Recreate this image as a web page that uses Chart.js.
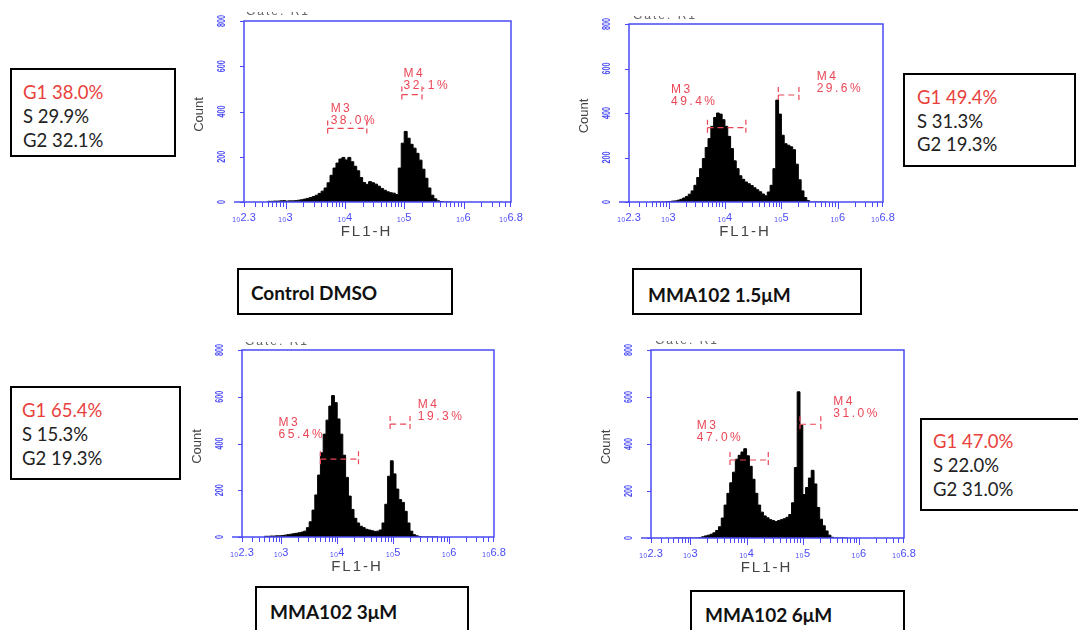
<!DOCTYPE html>
<html>
<head>
<meta charset="utf-8">
<script src="https://cdn.jsdelivr.net/npm/chart.js@4.4.1/dist/chart.umd.min.js"></script>
<style>
  body { margin: 0; background: #fff; }
  #page { position: relative; width: 1078px; height: 630px; overflow: hidden; background: #fff; }
  canvas { position: absolute; }
  .box { position: absolute; box-sizing: border-box; border: 2.5px solid #000; background: #fff;
         font-family: Lato, 'Open Sans', sans-serif; font-size: 18.5px; color: #222; line-height: 24px; }
  .box .red { color: #e8413c; }
  .tag { position: absolute; box-sizing: border-box; border: 2.5px solid #000; background: #fff;
         font-family: Lato, 'Open Sans', sans-serif; font-weight: bold; font-size: 19px; color: #111; line-height: 24px; }
  .gate { position: absolute; overflow: hidden; height: 5px; width: 80px; }
  .gate span { display: block; margin-top: -8px; font: 12px 'Liberation Sans', Arial; letter-spacing: 2px; color: #666; }
</style>
</head>
<body>
<div id="page">
  <canvas id="c1"></canvas>
  <canvas id="c2"></canvas>
  <canvas id="c3"></canvas>
  <canvas id="c4"></canvas>
</div>
<script>
// histogram bins: exponent of FL1-H, bin i covers [BIN_START + i*BIN_WIDTH, +BIN_WIDTH)
const BIN_START = 2.7;
const BIN_WIDTH = 0.05;

const controlCounts = [2,3,3,4,4,5,6,4,5,5, 6,8,10,13,16,20,24,30,38,48,
  62,85,118,150,172,190,197,186,197,178, 158,138,108,86,78,90,85,79,70,60,
  52,45,41,39,33,150,260,312,282,255, 238,215,185,145,105,62,30,14,5,2, 0,0];
const mma15Counts = [0,0,0,0,0,0,1,2,4,5, 8,12,18,25,35,50,75,110,150,195,
  245,285,340,380,400,395,370,340,295,240, 185,150,118,102,90,82,74,64,55,46,
  36,28,45,75,150,458,395,300,262,255, 248,235,170,100,50,20,6,0,0,0, 0,0];
const mma3Counts = [2,3,3,4,4,5,5,6,8,10, 12,14,16,18,21,25,40,65,115,180,
  265,360,440,500,560,605,575,505,440,350, 255,175,118,80,60,46,40,33,30,27,
  24,25,30,60,140,260,326,270,205,160, 148,110,60,25,10,5,2,0,0,0, 0,0];
const mma6Counts = [0,0,0,0,0,0,0,0,0,0, 2,5,9,12,16,22,32,48,85,140,
  190,235,280,335,352,366,380,350,305,250, 190,140,110,94,86,78,74,70,74,78,
  82,88,100,150,300,622,480,185,215,255, 288,230,130,80,52,30,12,3,0,0, 0,0];

const xTickExponents = [2.3, 3, 4, 5, 6, 6.8];
const xTickLabels = ['2.3', '3', '4', '5', '6', '6.8'];
const yTickValues = [0, 200, 400, 600, 800];
const yTickLabels = ['0', '200', '400', '600', '800'];

// marker gates: [from exponent, to exponent, count level]
const gateM3 = [[3.71, 4.37, 325], [3.69, 4.37, 334], [3.70, 4.38, 333], [3.705, 4.386, 332]];
const gateM4 = [[4.96, 5.30, 475], [4.945, 5.31, 481], [4.945, 5.30, 483], [4.95, 5.32, 484]];
const pctM3 = ['38.0%', '49.4%', '65.4%', '47.0%'];
const pctM4 = ['32.1%', '29.6%', '19.3%', '31.0%'];

const g1Pct = ['38.0%', '49.4%', '65.4%', '47.0%'];
const sPct = ['29.9%', '31.3%', '15.3%', '22.0%'];
const g2Pct = ['32.1%', '19.3%', '19.3%', '31.0%'];
const treatments = ['Control DMSO', 'MMA102 1.5μM', 'MMA102 3μM', 'MMA102 6μM'];

const BLUE = '#4a4af6';
const RED = '#ea4656';

const panels = [
  { id: 'c1', L: 244, T: 21, R: 511, B: 202, m3Label: [3.76, 413], m4Label: [4.99, 567] },
  { id: 'c2', L: 629, T: 24, R: 883, B: 202, m3Label: [3.044, 506], m4Label: [5.625, 562] },
  { id: 'c3', L: 242, T: 350, R: 494, B: 537, m3Label: [2.953, 488], m4Label: [5.44, 567] },
  { id: 'c4', L: 651, T: 350, R: 904, B: 538, m3Label: [3.113, 479], m4Label: [5.543, 581] }
];
const statBoxes = [
  { left: 10, top: 68, w: 166, h: 89, pl: 11, pt: 10, lh: 24 },
  { left: 903, top: 73, w: 173, h: 94, pl: 12, pt: 11, lh: 23.5 },
  { left: 10, top: 386, w: 171, h: 94, pl: 10, pt: 10, lh: 24 },
  { left: 920, top: 418, w: 160, h: 93, pl: 11, pt: 9, lh: 24 }
];
const tagBoxes = [
  { left: 237, top: 268, w: 216, h: 47, pl: 12, pt: 11 },
  { left: 632, top: 268, w: 230, h: 47, pl: 14, pt: 13 },
  { left: 255, top: 586, w: 214, h: 60, pl: 13, pt: 12 },
  { left: 690, top: 590, w: 215, h: 60, pl: 13, pt: 11 }
];
const gateTexts = [
  { left: 246, top: 12 }, { left: 633, top: 16 }, { left: 245, top: 342 }, { left: 655, top: 341 }
];

const PAD = { left: 64, top: 8, right: 22, bottom: 18 };
const X_AXIS_H = 24;

function minorTicks() {
  const out = [];
  for (let d = 2; d <= 6; d++) {
    for (let k = 2; k <= 9; k++) {
      const v = d + Math.log10(k);
      if (v > 2.3 && v < 6.8) out.push(v);
    }
  }
  return out;
}

function makeDecor(idx) {
  const p = panels[idx];
  return {
    id: 'panelDecor' + idx,
    afterDraw(chart) {
      const { ctx, chartArea: a, scales: { x, y } } = chart;
      ctx.save();
      // frame
      ctx.strokeStyle = BLUE;
      ctx.lineWidth = 1.5;
      ctx.strokeRect(a.left, a.top, a.right - a.left, a.bottom - a.top);
      ctx.beginPath();
      ctx.moveTo(a.left - 10, a.bottom);
      ctx.lineTo(a.left, a.bottom);
      ctx.stroke();
      // x tick marks
      ctx.lineWidth = 1;
      ctx.beginPath();
      [3, 4, 5, 6].forEach(v => {
        const px = Math.round(x.getPixelForValue(v)) + 0.5;
        ctx.moveTo(px, a.bottom); ctx.lineTo(px, a.bottom + 7);
      });
      minorTicks().forEach(v => {
        const px = Math.round(x.getPixelForValue(v)) + 0.5;
        ctx.moveTo(px, a.bottom); ctx.lineTo(px, a.bottom + 5);
      });
      // y tick marks
      yTickValues.forEach(v => {
        const py = Math.round(y.getPixelForValue(v)) + 0.5;
        ctx.moveTo(a.left - 4, py); ctx.lineTo(a.left, py);
      });
      ctx.stroke();
      // y tick labels (rotated)
      ctx.fillStyle = BLUE;
      ctx.font = 'bold 10px "Liberation Sans", Arial';
      ctx.textAlign = 'center';
      ctx.textBaseline = 'middle';
      yTickValues.forEach((v, i) => {
        ctx.save();
        ctx.translate(a.left - 22, y.getPixelForValue(v));
        ctx.rotate(-Math.PI / 2);
        ctx.scale(0.72, 1.1);
        ctx.fillText(yTickLabels[i], 0, 0);
        ctx.restore();
      });
      // axis titles
      ctx.fillStyle = '#444';
      ctx.font = '13px "Liberation Sans", Arial';
      ctx.save();
      ctx.translate(a.left - 45, (a.top + a.bottom) / 2 + 3);
      ctx.rotate(-Math.PI / 2);
      ctx.fillText('Count', 0, 0);
      ctx.restore();
      ctx.font = '15px "Liberation Sans", Arial';
      ctx.letterSpacing = '2px';
      ctx.fillText('FL1-H', (a.left + a.right) / 2 - 11, a.bottom + 30);
      // gate markers
      ctx.strokeStyle = RED;
      ctx.lineWidth = 1.2;
      [gateM3[idx], gateM4[idx]].forEach(g => {
        const x1 = x.getPixelForValue(g[0]);
        const x2 = x.getPixelForValue(g[1]);
        const py = y.getPixelForValue(g[2]);
        ctx.setLineDash([6, 4]);
        ctx.beginPath();
        ctx.moveTo(x1, py); ctx.lineTo(x2, py);
        ctx.stroke();
        ctx.setLineDash([5, 3]);
        ctx.beginPath();
        ctx.moveTo(x1, py - 8); ctx.lineTo(x1, py + 8);
        ctx.moveTo(x2, py - 8); ctx.lineTo(x2, py + 8);
        ctx.stroke();
      });
      ctx.setLineDash([]);
      // gate labels
      ctx.fillStyle = RED;
      ctx.font = '12px "Liberation Sans", Arial';
      ctx.letterSpacing = '2.5px';
      ctx.textAlign = 'left';
      [[p.m3Label, 'M3', pctM3[idx]], [p.m4Label, 'M4', pctM4[idx]]].forEach(([pos, name, pct]) => {
        const px = x.getPixelForValue(pos[0]);
        const py = y.getPixelForValue(pos[1]);
        ctx.fillText(name, px, py);
        ctx.fillText(pct, px, py + 12);
      });
      ctx.restore();
    }
  };
}

function makePanel(idx, counts) {
  const p = panels[idx];
  const canvas = document.getElementById(p.id);
  const w = p.R - p.L + PAD.left + PAD.right;
  const h = p.B - p.T + PAD.top + PAD.bottom + X_AXIS_H;
  canvas.width = w;
  canvas.height = h;
  canvas.style.left = (p.L - PAD.left) + 'px';
  canvas.style.top = (p.T - PAD.top) + 'px';

  const points = counts.map((c, i) => ({ x: BIN_START + i * BIN_WIDTH, y: c }));
  points.push({ x: BIN_START + counts.length * BIN_WIDTH, y: 0 });

  return new Chart(canvas, {
    type: 'line',
    data: {
      datasets: [{
        data: points,
        stepped: 'after',
        fill: 'origin',
        backgroundColor: '#000',
        borderColor: '#000',
        borderWidth: 1,
        pointRadius: 0
      }]
    },
    options: {
      responsive: false,
      animation: false,
      events: [],
      layout: { padding: PAD },
      plugins: { legend: { display: false }, tooltip: { enabled: false } },
      scales: {
        x: {
          type: 'linear', min: 2.3, max: 6.8,
          afterFit: s => { s.height = X_AXIS_H; },
          afterBuildTicks: s => { s.ticks = xTickExponents.map(v => ({ value: v })); },
          grid: { display: false, drawTicks: false },
          border: { display: false },
          ticks: {
            color: BLUE, padding: 9, autoSkip: false, maxRotation: 0,
            font: { family: '"Liberation Sans", Arial', size: 11 },
            callback: (v, i) => '₁₀' + xTickLabels[i]
          }
        },
        y: {
          min: 0, max: 800,
          afterFit: s => { s.width = 0; },
          grid: { display: false, drawTicks: false },
          border: { display: false },
          ticks: { display: false }
        }
      }
    },
    plugins: [makeDecor(idx)]
  });
}

makePanel(0, controlCounts);
makePanel(1, mma15Counts);
makePanel(2, mma3Counts);
makePanel(3, mma6Counts);

// text boxes
const page = document.getElementById('page');
statBoxes.forEach((b, i) => {
  const d = document.createElement('div');
  d.className = 'box';
  Object.assign(d.style, { left: b.left + 'px', top: b.top + 'px', width: b.w + 'px', height: b.h + 'px',
    paddingLeft: b.pl + 'px', paddingTop: b.pt + 'px', lineHeight: b.lh + 'px' });
  d.innerHTML = '<div class="red">G1 ' + g1Pct[i] + '</div><div>S ' + sPct[i] + '</div><div>G2 ' + g2Pct[i] + '</div>';
  page.appendChild(d);
});
tagBoxes.forEach((b, i) => {
  const d = document.createElement('div');
  d.className = 'tag';
  Object.assign(d.style, { left: b.left + 'px', top: b.top + 'px', width: b.w + 'px', height: b.h + 'px',
    paddingLeft: b.pl + 'px', paddingTop: b.pt + 'px' });
  d.textContent = treatments[i];
  page.appendChild(d);
});
gateTexts.forEach(g => {
  const d = document.createElement('div');
  d.className = 'gate';
  d.style.left = g.left + 'px';
  d.style.top = g.top + 'px';
  d.innerHTML = '<span>Gate: R1</span>';
  page.appendChild(d);
});
</script>
</body>
</html>
